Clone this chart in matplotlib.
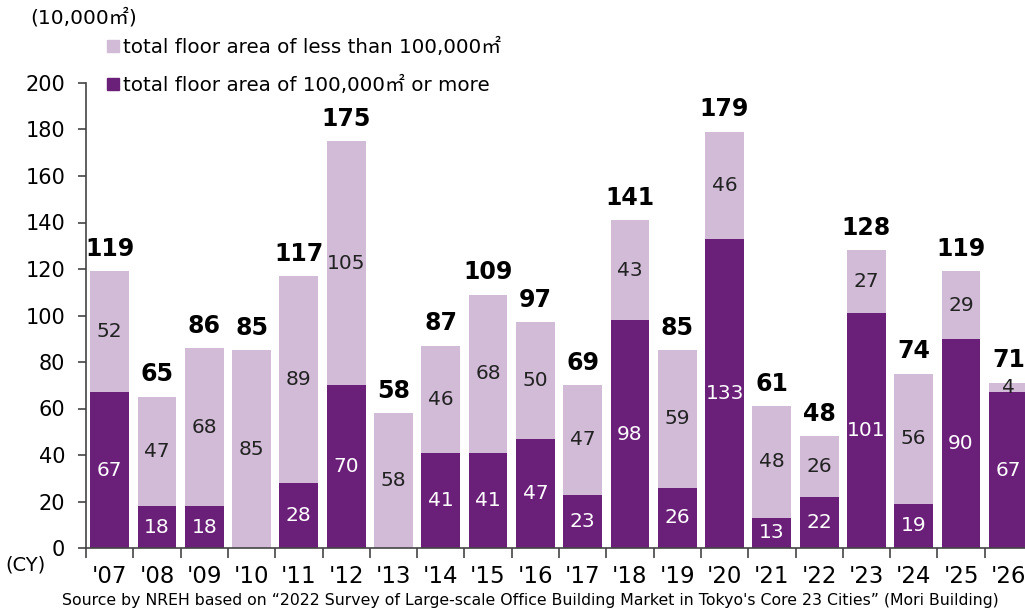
import matplotlib.pyplot as plt

plt.rcParams['font.family'] = ['DejaVu Sans', 'Noto Sans CJK JP']

years = ["'07", "'08", "'09", "'10", "'11", "'12", "'13", "'14", "'15", "'16",
         "'17", "'18", "'19", "'20", "'21", "'22", "'23", "'24", "'25", "'26"]
large = [67, 18, 18, 0, 28, 70, 0, 41, 41, 47, 23, 98, 26, 133, 13, 22, 101, 19, 90, 67]
small = [52, 47, 68, 85, 89, 105, 58, 46, 68, 50, 47, 43, 59, 46, 48, 26, 27, 56, 29, 4]
totals = [119, 65, 86, 85, 117, 175, 58, 87, 109, 97, 69, 141, 85, 179, 61, 48, 128, 74, 119, 71]

dark = '#6a1f78'
light = '#d1bbd7'

fig = plt.figure(figsize=(10.25, 6.11), dpi=100)
ax = fig.add_axes([86 / 1025, 1 - 548 / 611, 946 / 1025, 465 / 611])

x = range(len(years))
ax.bar(x, large, width=0.82, color=dark, zorder=2)
ax.bar(x, small, width=0.82, bottom=large, color=light, zorder=2)

for i in x:
    if large[i] > 0:
        ax.text(i, large[i] / 2, str(large[i]), ha='center', va='center',
                color='white', fontsize=14.5)
    if small[i] > 0:
        ax.text(i, large[i] + small[i] / 2, str(small[i]), ha='center', va='center',
                color='#222222', fontsize=14.5)
    ax.text(i, large[i] + small[i] + 4.5, str(totals[i]), ha='center', va='bottom',
            fontsize=17, fontweight='bold', color='black')

ax.set_xlim(-0.5, len(years) - 0.5)
ax.set_ylim(0, 200)
ax.set_yticks(range(0, 201, 20))
ax.tick_params(axis='y', labelsize=15, length=6, direction='out', pad=9)
ax.set_xticks([i - 0.5 for i in range(len(years))])
ax.set_xticklabels([])
ax.set_xticks(list(x), minor=True)
ax.set_xticklabels(years, minor=True, fontsize=16.5)
ax.tick_params(axis='x', which='major', length=7, direction='out')
ax.tick_params(axis='x', which='minor', length=0, pad=12)
for s in ['top', 'right']:
    ax.spines[s].set_visible(False)
ax.spines['left'].set_color('#444444')
ax.spines['bottom'].set_color('#444444')
ax.spines['left'].set_linewidth(1.2)
ax.spines['bottom'].set_linewidth(1.2)
ax.tick_params(colors='#444444', labelcolor='black', width=1.2)

fig.text(30 / 1025, 1 - 18 / 611, '(10,000㎡)', fontsize=14.5, va='center', ha='left')
fig.text(5 / 1025, 1 - 565 / 611, '(CY)', fontsize=14, va='center', ha='left')

# Legend drawn as coloured squares with labels
for yy, c, lab in [(47, light, 'total floor area of less than 100,000㎡'),
                   (85, dark, 'total floor area of 100,000㎡ or more')]:
    fig.patches.append(plt.Rectangle((107 / 1025, 1 - (yy + 5) / 611), 12 / 1025, 12 / 611,
                                     transform=fig.transFigure, color=c, figure=fig))
    fig.text(123 / 1025, 1 - yy / 611, lab, fontsize=14.3, va='center', ha='left')

fig.text(530 / 1025, 1 - 601 / 611,
         "Source by NREH based on \u201c2022 Survey of Large-scale Office Building Market in Tokyo's Core 23 Cities\u201d (Mori Building)",
         fontsize=11.3, va='center', ha='center',
         family=['Liberation Sans Narrow', 'DejaVu Sans'])

fig.savefig('out.png', dpi=100)
